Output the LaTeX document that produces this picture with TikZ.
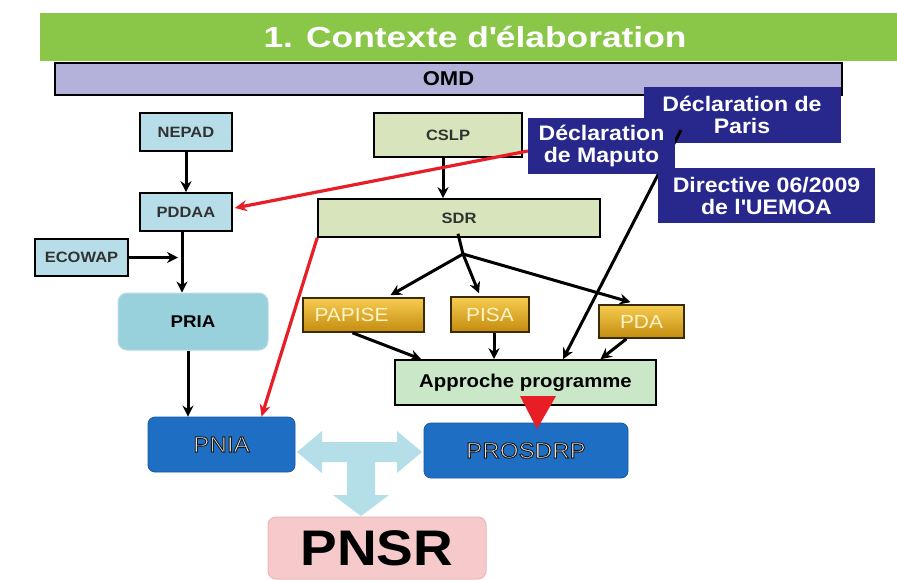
\documentclass[tikz,border=0pt]{standalone}
\usepackage{fontspec}
\setmainfont{Liberation Sans}[FakeStretch=1.1]
\newfontfamily\titlefont{Liberation Sans}[FakeStretch=1.22]
\usetikzlibrary{calc,arrows.meta}
\definecolor{titlegreen}{RGB}{138,198,72}
\definecolor{lavender}{RGB}{180,178,218}
\definecolor{cyanfill}{RGB}{183,222,232}
\definecolor{priafill}{RGB}{152,208,220}
\definecolor{olivefill}{RGB}{216,228,188}
\definecolor{approfill}{RGB}{202,232,200}
\definecolor{goldtop}{RGB}{246,204,80}
\definecolor{goldbot}{RGB}{196,140,16}
\definecolor{golddark}{RGB}{60,42,0}
\definecolor{goldtext}{RGB}{255,244,200}
\definecolor{pblue}{RGB}{30,110,196}
\definecolor{pbluedark}{RGB}{24,90,165}
\definecolor{navy}{RGB}{40,40,140}
\definecolor{pinkfill}{RGB}{246,202,202}
\definecolor{pinkline}{RGB}{236,182,182}
\definecolor{tarrow}{RGB}{180,222,232}
\definecolor{darktext}{RGB}{50,50,50}
\definecolor{embtext}{RGB}{228,228,228}
\definecolor{redline}{RGB}{232,30,38}
\newcommand\embossed[1]{\special{pdf:literal direct 0.1 0.1 0.1 RG 0.9 w 2 Tr}#1\special{pdf:literal direct 0 Tr}}
\begin{document}
\begin{tikzpicture}[x=1pt,y=-1pt,
  plainbox/.style={draw=black, line width=1.6pt, inner sep=0pt,
    font=\bfseries\fontsize{15}{17}\selectfont, text=darktext},
  cyanbox/.style={plainbox, fill=cyanfill},
  olivebox/.style={plainbox, fill=olivefill},
  goldbox/.style={draw=golddark, line width=1.6pt, top color=goldtop, bottom color=goldbot,
    inner sep=0pt, text=goldtext, font=\fontsize{19}{21}\selectfont},
  navybox/.style={fill=navy, inner sep=0pt, text=white, align=center,
    font=\bfseries\fontsize{21}{22}\selectfont},
  bluebox/.style={rounded corners=7pt, fill=pblue, draw=pbluedark, line width=0.8pt,
    inner sep=0pt, text=embtext},
  arr/.style={-{Stealth[length=11pt,width=11pt]}, line width=3pt, black},
  redarr/.style={-{Stealth[length=12pt,width=11pt]}, line width=3.2pt, redline}
]
\useasboundingbox[fill=white] (0,0) rectangle (897,579);

% title and OMD
\node[fill=titlegreen, inner sep=0pt, minimum width=857pt, minimum height=48pt,
  text=white, font=\titlefont\bfseries\fontsize{29}{31}\selectfont] (title) at (468.5,37)
  {\hspace*{13pt}1. Contexte d\textquotesingle élaboration};
\node[draw=black, line width=1.6pt, fill=lavender, inner sep=0pt, minimum width=787pt,
  minimum height=32pt, font=\bfseries\fontsize{20}{22}\selectfont] (omd) at (448.5,79) {OMD};

% left column
\node[cyanbox, minimum width=92pt, minimum height=38pt] (nepad) at (186,132) {NEPAD};
\node[cyanbox, minimum width=92pt, minimum height=38pt] (pddaa) at (186,212) {PDDAA};
\node[cyanbox, minimum width=93pt, minimum height=37pt] (ecowap) at (81.5,257.5) {ECOWAP};
\node[fill=priafill, draw=cyanfill, line width=1pt, rounded corners=9pt, inner sep=0pt,
  minimum width=150pt, minimum height=57pt, font=\bfseries\fontsize{17}{19}\selectfont]
  (pria) at (193,321.5) {PRIA};

% central column
\node[olivebox, minimum width=148pt, minimum height=44pt] (cslp) at (448,135) {CSLP};
\node[olivebox, minimum width=282pt, minimum height=38pt] (sdr) at (459,218) {SDR};
\node[goldbox, minimum width=121pt, minimum height=34pt] (papise) at (363.5,315) {PAPISE\hspace*{24pt}};
\node[goldbox, minimum width=78pt, minimum height=35pt] (pisa) at (490,314.5) {PISA};
\node[goldbox, minimum width=85pt, minimum height=33pt] (pda) at (641.5,321.5) {PDA};
\node[plainbox, fill=approfill, text=black, minimum width=261pt, minimum height=45pt,
  font=\bfseries\fontsize{18.5}{21}\selectfont] (approche) at (525.5,382.5) {Approche programme};

% T-shaped double block arrow
\fill[tarrow] (297,452) -- (322,431) -- (322,442) -- (397,442) -- (397,431) -- (422,452)
  -- (397,473) -- (397,462) -- (375,462) -- (375,495) -- (389,495) -- (361,516)
  -- (333,495) -- (347,495) -- (347,462) -- (322,462) -- (322,473) -- cycle;

% bottom boxes
\node[bluebox, minimum width=147pt, minimum height=55pt, font=\fontsize{22}{24}\selectfont]
  (pnia) at (221.5,444.5) {\embossed{PNIA}};
\node[bluebox, minimum width=204pt, minimum height=55pt, font=\fontsize{22}{24}\selectfont]
  (prosdrp) at (526,450.5) {\embossed{PROSDRP}};
\node[fill=pinkfill, draw=pinkline, line width=1pt, rounded corners=8pt, inner sep=0pt,
  minimum width=218pt, minimum height=62pt, font=\bfseries\fontsize{50}{52}\selectfont]
  (pnsr) at (377,548) {PNSR};

% red triangle
\fill[redline] (520,396) -- (556,396) -- (537,429) -- cycle;

% declaration boxes
\node[navybox, minimum width=197pt, minimum height=56pt] (paris) at (742,115)
  {Déclaration de\\Paris};
\coordinate (parisline) at (681,130);
\draw[arr] (parisline) -- ($(approche.north)+(37.5,0)$);
\node[navybox, minimum width=147pt, minimum height=56pt] (maputo) at (601.5,146)
  {Déclaration\\de Maputo};
\node[navybox, minimum width=217pt, minimum height=55pt] (directive) at (766.5,195.5)
  {Directive 06/2009\\de l\textquotesingle UEMOA};

% black connectors
\draw[arr] (nepad.south) -- (pddaa.north);
\draw[arr] ([xshift=-4pt]pddaa.south) -- ([xshift=-4pt]pddaa.south |- pria.north);
\coordinate (ecoend) at (178,257.5);
\draw[arr] (ecowap.east) -- (ecoend);
\draw[arr] ([xshift=-5pt]pria.south) -- ([xshift=-5pt]pria.south |- pnia.north);
\draw[arr] ([xshift=-5pt]cslp.south) -- ([xshift=-5pt]cslp.south |- sdr.north);
\coordinate (branch) at (463,254);
\draw[line width=3pt] ([xshift=-1pt,yshift=4pt]sdr.south) -- (branch);
\draw[arr] (branch) -- ($(papise.north)+(27,-2)$);
\draw[arr] (branch) -- ($(pisa.north)+(-11,-3)$);
\draw[arr] (branch) -- ($(pda.north)+(-11,-2)$);
\draw[arr] ($(papise.south)+(-11,0)$) -- ($(approche.north west)+(27,0)$);
\draw[arr] ([xshift=4pt]pisa.south) -- ([xshift=4pt]pisa.south |- approche.north);
\draw[arr] ($(pda.south)+(-15,0)$) -- ($(approche.north)+(75,0)$);

% red connectors
\draw[redarr] ($(maputo.west)+(0,5)$) -- ($(pddaa.east)+(2,-4)$);
\draw[redarr] (sdr.south west) -- ($(pnia.north)+(40,0)$);
\end{tikzpicture}
\end{document}
